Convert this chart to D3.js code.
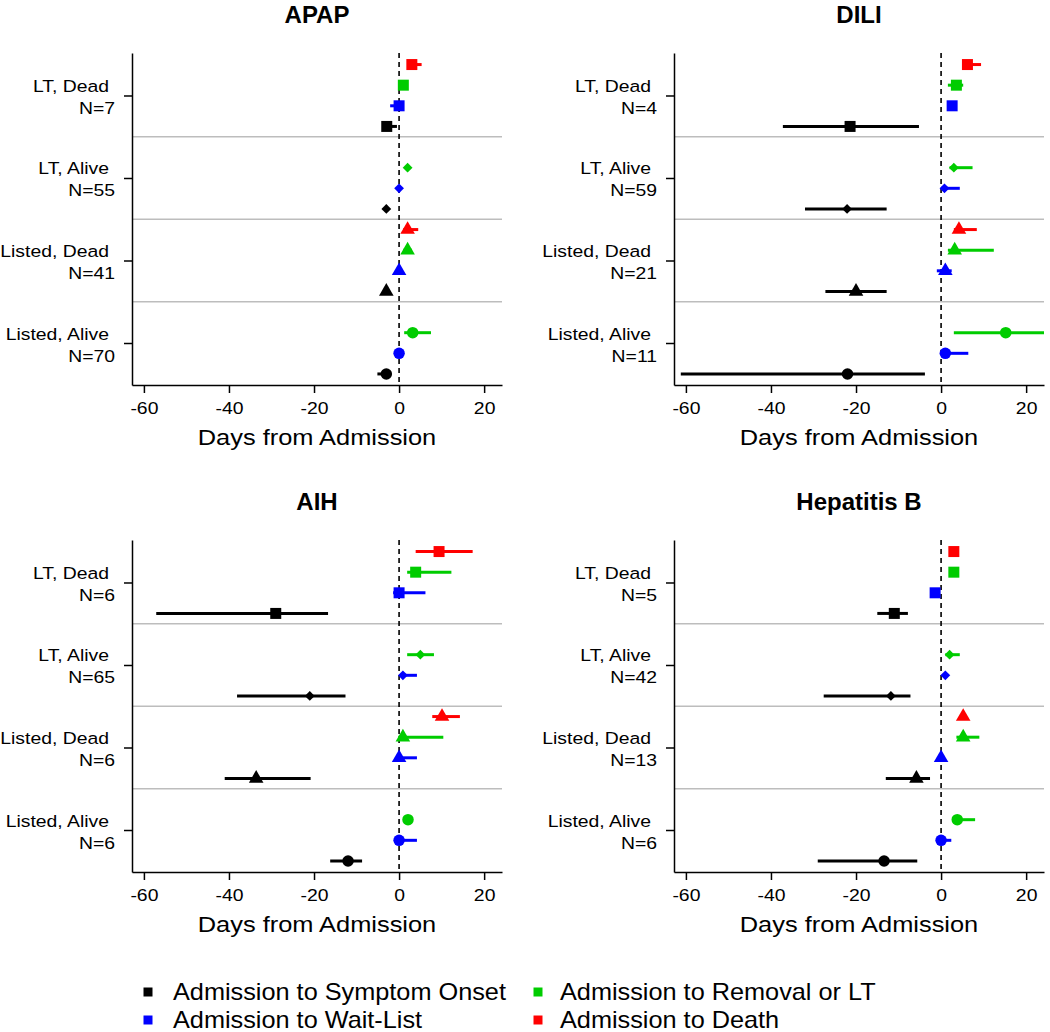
<!DOCTYPE html>
<html><head><meta charset="utf-8">
<script src="https://cdn.jsdelivr.net/npm/d3@7"></script>
<style>
body{margin:0;background:#fff}
svg{display:block}
text{font-family:"Liberation Sans",Arial,Helvetica,sans-serif;fill:#000}
</style>
</head><body>
<svg id="chart" width="1050" height="1032"></svg>
<script>
// ---------------- DATA ----------------
const panelTitles = ["APAP", "DILI", "AIH", "Hepatitis B"];
const groupLabels = ["LT, Dead", "LT, Alive", "Listed, Dead", "Listed, Alive"];
const groupN = [[7, 55, 41, 70], [4, 59, 21, 11], [6, 65, 6, 6], [5, 42, 13, 6]];
const seriesNames = ["Admission to Symptom Onset", "Admission to Wait-List", "Admission to Removal or LT", "Admission to Death"];
const xTicks = [-60, -40, -20, 0, 20];
const xTickLabels = ["-60", "-40", "-20", "0", "20"];
const xLabel = "Days from Admission";

// each row = group; each entry = [median, lo, hi] per series (onset, wait-list, removal/LT, death)
const apapValues = [
  [[-2.9, -3.5, -0.5], [0, -2.1, 0.6], [1, 0.5, 1.5], [3, 2, 5.3]],
  [[-3, -3.5, -2.5], [0, -0.3, 0.3], [2, 1.5, 2.5], null],
  [[-3, -3.5, -2.5], [0, -0.5, 0.5], [2, 1, 3], [2, 1, 4.5]],
  [[-3, -5.1, -2], [0, -0.5, 0.5], [3.2, 1.2, 7.5], null]
];
const diliValues = [
  [[-21.4, -37.2, -5.2], [2.6, 2, 3], [3.6, 1.6, 5.2], [6.2, 5, 9.4]],
  [[-22.1, -32, -12.8], [0.8, 0, 4.4], [3, 2, 7.4], null],
  [[-20, -27.2, -12.8], [1, -1, 2.5], [3.2, 1.6, 12.4], [4.2, 3, 8.4]],
  [[-22, -61.2, -3.8], [1, 0.5, 6.4], [15.2, 3, 30], null]
];
const aihValues = [
  [[-29, -57.1, -16.7], [0, -1.4, 6.2], [3.9, 1.9, 12.3], [9.4, 3.9, 17.3]],
  [[-21, -38.1, -12.6], [0.9, 0.5, 4.2], [5, 1.9, 8.2], null],
  [[-33.6, -41, -20.8], [0, -0.5, 4.2], [0.9, -0.2, 10.4], [10.1, 7.8, 14.3]],
  [[-12, -16.2, -8.7], [0, -0.5, 4.2], [2.1, 1.6, 2.6], null]
];
const hepbValues = [
  [[-11, -15, -7.8], [-1.4, -2, -0.8], [3, 2.5, 3.5], [3, 2.5, 3.5]],
  [[-11.8, -27.6, -7.2], [1, 0.5, 1.5], [2, 1, 4.4], null],
  [[-5.8, -13, -2.6], [0, -0.5, 0.5], [5.2, 3.6, 9], [5.2, 4.5, 6]],
  [[-13.4, -29, -5.6], [0, -0.5, 2.4], [3.8, 3, 8], null]
];
const panelValues = [apapValues, diliValues, aihValues, hepbValues];

// ---------------- STYLE / LAYOUT ----------------
const seriesColors = ["#000000", "#0000FF", "#00CC00", "#FF0000"];
const seriesOffset = [-0.375, -0.125, 0.125, 0.375];
const panelPos = [{x: 132, y: 53}, {x: 674, y: 53}, {x: 132, y: 540}, {x: 674, y: 540}];
const plotW = 370, plotH = 332;
const xDomain = [-62.8, 24.2];
const yDomain = [0.491, 4.515];
const SX = 1.14;

const diamond = {draw(ctx, size) { const r = Math.sqrt(size / 2); ctx.moveTo(0, -r); ctx.lineTo(r, 0); ctx.lineTo(0, r); ctx.lineTo(-r, 0); ctx.closePath(); }};
const groupSymbols = [
  d3.symbol(d3.symbolSquare, 121),
  d3.symbol(diamond, 48),
  d3.symbol(d3.symbolTriangle, 92),
  d3.symbol(d3.symbolCircle, 104)
];

const svg = d3.select("#chart");
svg.append("rect").attr("width", 1050).attr("height", 1032).attr("fill", "#fff");

panelTitles.forEach((title, pi) => {
  const pos = panelPos[pi];
  const g = svg.append("g").attr("transform", `translate(${pos.x},${pos.y})`);
  const x = d3.scaleLinear().domain(xDomain).range([0, plotW]);
  const y = d3.scaleLinear().domain(yDomain).range([plotH, 0]);

  const clipId = "clip" + pi;
  g.append("clipPath").attr("id", clipId).append("rect").attr("width", plotW).attr("height", plotH);

  // separators
  g.selectAll(".sep").data([1.5, 2.5, 3.5]).enter().append("line")
    .attr("x1", 0).attr("x2", plotW).attr("y1", d => y(d)).attr("y2", d => y(d))
    .attr("stroke", "#bdbdbd").attr("stroke-width", 1.5);

  // zero dashed line
  g.append("line").attr("x1", x(0)).attr("x2", x(0)).attr("y1", 0).attr("y2", plotH)
    .attr("stroke", "#000").attr("stroke-width", 1.6).attr("stroke-dasharray", "5,4");

  const marks = g.append("g").attr("clip-path", `url(#${clipId})`);
  panelValues[pi].forEach((row, gi) => {
    const yc = 4 - gi;
    row.forEach((v, si) => {
      if (!v) return;
      const yy = y(yc + seriesOffset[si]);
      marks.append("line").attr("x1", x(v[1])).attr("x2", x(v[2])).attr("y1", yy).attr("y2", yy)
        .attr("stroke", seriesColors[si]).attr("stroke-width", 3);
      marks.append("path").attr("d", groupSymbols[gi]())
        .attr("transform", `translate(${x(v[0])},${yy})`).attr("fill", seriesColors[si]);
    });
  });

  // x axis
  const xa = g.append("g").attr("transform", `translate(0,${plotH})`)
    .call(d3.axisBottom(x).tickValues(xTicks).tickFormat((d, i) => xTickLabels[i])
      .tickSize(8).tickPadding(9).tickSizeOuter(0));
  xa.selectAll("path,line").attr("stroke", "#000").attr("stroke-width", 1.5);
  xa.selectAll("text").attr("font-size", 17).attr("font-family", "Liberation Sans, Arial, sans-serif")
    .attr("transform", `scale(${SX},1)`).attr("fill", "#000");

  // y axis
  const ya = g.append("g")
    .call(d3.axisLeft(y).tickValues([4, 3, 2, 1]).tickFormat(() => "").tickSize(8).tickSizeOuter(0));
  ya.selectAll("path,line").attr("stroke", "#000").attr("stroke-width", 1.5);

  groupLabels.forEach((lab, gi) => {
    const yc = y(4 - gi);
    g.append("text").attr("text-anchor", "end").attr("font-size", 17)
      .attr("transform", `translate(-23,${yc - 3.5}) scale(${SX},1)`).text(lab);
    g.append("text").attr("text-anchor", "end").attr("font-size", 17)
      .attr("transform", `translate(-17,${yc + 18.5}) scale(${SX},1)`).text("N=" + groupN[pi][gi]);
  });

  // titles
  g.append("text").attr("text-anchor", "middle").attr("font-size", 24).attr("font-weight", "bold")
    .attr("x", plotW / 2).attr("y", -30).text(title);
  g.append("text").attr("text-anchor", "middle").attr("font-size", 22)
    .attr("transform", `translate(${plotW / 2},${plotH + 60}) scale(1.155,1)`).text(xLabel);
});

// legend
const legendPos = [{x: 148, y: 992}, {x: 148, y: 1020}, {x: 538, y: 992}, {x: 538, y: 1020}];
const sw = d3.symbol(d3.symbolSquare, 81);
seriesNames.forEach((name, si) => {
  const p = legendPos[si];
  svg.append("path").attr("d", sw()).attr("transform", `translate(${p.x},${p.y})`).attr("fill", seriesColors[si]);
  svg.append("text").attr("font-size", 23)
    .attr("transform", `translate(${p.x + (si < 2 ? 25 : 22)},${p.y + 8}) scale(1.1,1)`).text(name);
});
</script>
</body></html>
